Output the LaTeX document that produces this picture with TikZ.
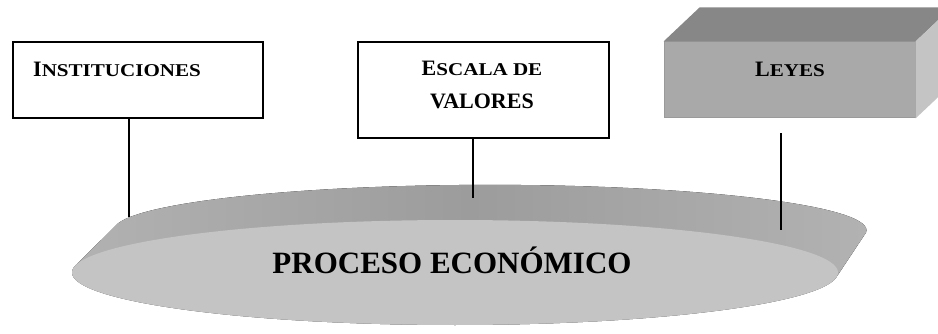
\documentclass[tikz,border=0pt]{standalone}
\usepackage{fontspec}
\setmainfont{Liberation Serif}
\usetikzlibrary{positioning,calc}
\definecolor{rimgray}{HTML}{9C9C9C}
\definecolor{rimlight}{HTML}{B2B2B2}
\definecolor{facegray}{HTML}{C4C4C4}
\definecolor{leyesfront}{HTML}{A9A9A9}
\definecolor{leyesedge}{HTML}{9A9A9A}
\definecolor{leyestop}{HTML}{878787}
\definecolor{leyesside}{HTML}{C4C4C4}
\newcommand{\wordcaps}[2]{{\fontsize{22}{26}\selectfont #1}\scalebox{1.17}[1]{\fontsize{18}{22}\selectfont #2}}

\begin{document}
\begin{tikzpicture}[x=1pt, y=-1pt,
    framebox/.style={rectangle, draw=black, line width=1.3pt, minimum width=250pt},
    boxtext/.style={inner sep=0pt, font=\bfseries},
    link/.style={line width=1.3pt}]
    \useasboundingbox (0,0) rectangle (938,334);
    \clip (0,0) rectangle (938,334);

    % disco del proceso
    \fill[left color=rimlight, right color=rimlight, middle color=rimgray]
        \foreach \t in {0,0.05,...,1.0} {
            ($(455,272.5)!\t!(492,228)$) ellipse [x radius={383-7*\t}, y radius={52.5-7.5*\t}]
        };
    \fill[facegray] (455,272.5) ellipse [x radius=383, y radius=52.5];
    \node (proc) [inner sep=0pt, anchor=base, font=\fontsize{31}{36}\selectfont\bfseries] at (452,273) {PROCESO ECONÓMICO};

    \coordinate (instEnd) at (129,217);
    \coordinate (escalaEnd) at (473,198);
    \coordinate (leyesEnd) at (781,230);

    \node (inst) [framebox, minimum height=76pt] at (138,80) {};
    \node (instText) [boxtext, anchor=base west] at (33,77) {\wordcaps{I}{NSTITUCIONES}};

    \node (escala) [framebox, minimum width=251pt, minimum height=96pt] at (483.5,90) {};
    \node (escalaText) [boxtext, align=center, anchor=north, font=\fontsize{22}{33}\selectfont\bfseries] at (482,60.5) {\wordcaps{E}{SCALA DE}\\VALORES};

    \node (leyes) [rectangle, fill=leyesfront, draw=leyesedge, line width=1pt, minimum width=251pt, minimum height=76pt] at (789.5,80) {};
    \fill[leyestop] (leyes.north west) -- ++(36,-34) -- ($(leyes.north east)+(36,-34)$) -- (leyes.north east) -- cycle;
    \fill[leyesside] (leyes.north east) -- ++(36,-34) -- ($(leyes.south east)+(36,-34)$) -- (leyes.south east) -- cycle;
    \node (leyesText) [boxtext, anchor=base] at (790,77) {\wordcaps{L}{EYES}};

    \draw [link] (inst.south -| instEnd) -- (instEnd);
    \draw [link] (escala.south -| escalaEnd) -- (escalaEnd);
    \draw [link, shorten <=15pt] (leyes.south -| leyesEnd) -- (leyesEnd);
\end{tikzpicture}
\end{document}
